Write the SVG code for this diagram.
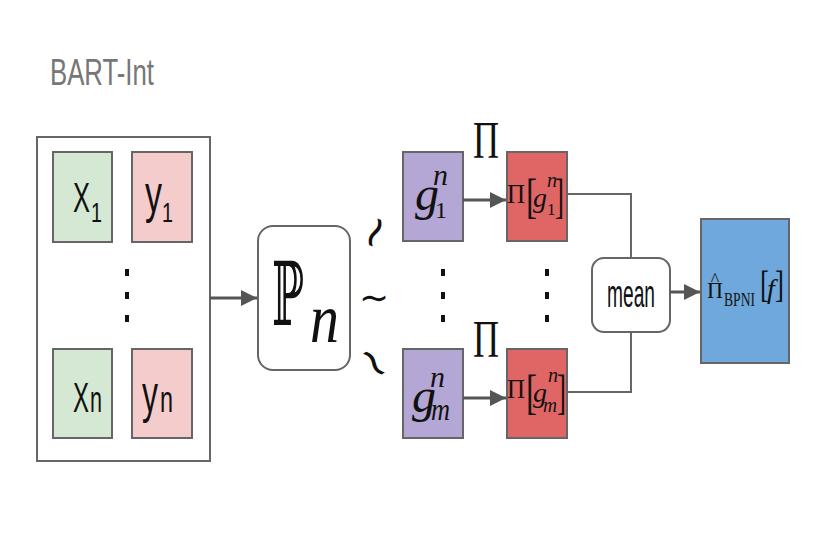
<svg xmlns="http://www.w3.org/2000/svg" width="837" height="558" viewBox="0 0 837 558">
<defs>
<marker id="ah" viewBox="0 0 10 10" refX="10" refY="5" markerWidth="5.5" markerHeight="5.5" orient="auto" markerUnits="strokeWidth"><path d="M0,0 L10,5 L0,10 z" fill="#555"/></marker>
<style>
.box{stroke:#666;stroke-width:2}
.sans{font-family:"Liberation Sans","DejaVu Sans",sans-serif;fill:#111}
.serif{font-family:"Liberation Serif","DejaVu Serif",serif;fill:#111}
.math{font-family:"Liberation Serif","DejaVu Serif",serif;font-style:italic;fill:#111}
.con{fill:none;stroke:#666;stroke-width:2}
.arr{fill:none;stroke:#555;stroke-width:3;marker-end:url(#ah)}
.dot{fill:#111}
</style>
</defs>
<rect width="837" height="558" fill="#fff"/>
<text x="50" y="85" font-family="Liberation Sans, sans-serif" font-size="37" fill="#777" textLength="104" lengthAdjust="spacingAndGlyphs">BART-Int</text>

<g id="data">
<rect x="37" y="137" width="173" height="324" fill="#fff" class="box"/>
<g id="x1"><rect x="53" y="152" width="59" height="90" fill="#d5e8d4" class="box"/><text x="73" y="212" class="sans" font-size="42" textLength="17" lengthAdjust="spacingAndGlyphs">X</text><text x="91" y="222" class="sans" font-size="28" textLength="11" lengthAdjust="spacingAndGlyphs">1</text></g>
<g id="y1"><rect x="132" y="152" width="60" height="90" fill="#f4cccc" class="box"/><text x="145" y="212" class="sans" font-size="54" textLength="17" lengthAdjust="spacingAndGlyphs">y</text><text x="162" y="222" class="sans" font-size="28" textLength="11" lengthAdjust="spacingAndGlyphs">1</text></g>
<g id="xn"><rect x="53" y="349" width="59" height="89" fill="#d5e8d4" class="box"/><text x="73" y="412" class="sans" font-size="42" textLength="16" lengthAdjust="spacingAndGlyphs">X</text><text x="90" y="412" class="sans" font-size="36" textLength="12" lengthAdjust="spacingAndGlyphs">n</text></g>
<g id="yn"><rect x="132" y="349" width="60" height="89" fill="#f4cccc" class="box"/><text x="142" y="412" class="sans" font-size="54" textLength="16" lengthAdjust="spacingAndGlyphs">y</text><text x="160" y="412" class="sans" font-size="36" textLength="13" lengthAdjust="spacingAndGlyphs">n</text></g>
<rect x="125" y="269" width="4" height="7" class="dot"/><rect x="125" y="292" width="4" height="7" class="dot"/><rect x="125" y="315" width="4" height="7" class="dot"/>
</g>

<g id="pn">
<rect x="258" y="226" width="92" height="144" rx="15" fill="#fff" class="box"/>
<text x="272" y="325" font-family="DejaVu Serif, DejaVu Sans, serif" font-size="88" fill="#111" textLength="32" lengthAdjust="spacingAndGlyphs">ℙ</text>
<text x="310" y="342" class="math" font-size="70" textLength="29" lengthAdjust="spacingAndGlyphs">n</text>
</g>

<g id="tildes" font-family="DejaVu Sans, sans-serif" fill="#111">
<text x="374" y="247" font-size="44" text-anchor="middle" transform="rotate(-65 374 232)">∼</text>
<text x="374" y="310" font-size="36" text-anchor="middle">∼</text>
<text x="374" y="377" font-size="44" text-anchor="middle" transform="rotate(55 374 363)">∼</text>
</g>

<g id="g1"><rect x="403" y="152" width="60" height="89" fill="#b4a7d6" class="box"/><text x="415" y="210" class="math" font-size="48">g</text><text x="433" y="185" class="math" font-size="30">n</text><text x="435" y="218" class="serif" font-size="24">1</text></g>
<g id="pig1"><rect x="507" y="152" width="60" height="89" fill="#e06666" class="box"/><text x="507" y="203" class="serif" font-size="27" textLength="18" lengthAdjust="spacingAndGlyphs">Π</text><text x="526" y="212" class="serif" font-size="48" textLength="11" lengthAdjust="spacingAndGlyphs">[</text><text x="533" y="207" class="math" font-size="28">g</text><text x="547" y="187" class="math" font-size="20">n</text><text x="547" y="215" class="serif" font-size="17">1</text><text x="555" y="212" class="serif" font-size="48" textLength="9" lengthAdjust="spacingAndGlyphs">]</text></g>
<g id="gm"><rect x="403" y="349" width="60" height="89" fill="#b4a7d6" class="box"/><text x="412" y="412" class="math" font-size="48">g</text><text x="430" y="387" class="math" font-size="30">n</text><text x="431" y="420" class="math" font-size="32" textLength="19" lengthAdjust="spacingAndGlyphs">m</text></g>
<g id="pigm"><rect x="507" y="349" width="60" height="89" fill="#e06666" class="box"/><text x="507" y="398" class="serif" font-size="27" textLength="18" lengthAdjust="spacingAndGlyphs">Π</text><text x="526" y="408" class="serif" font-size="48" textLength="11" lengthAdjust="spacingAndGlyphs">[</text><text x="533" y="402" class="math" font-size="28">g</text><text x="548" y="382" class="math" font-size="20">n</text><text x="543" y="412" class="math" font-size="20" textLength="14" lengthAdjust="spacingAndGlyphs">m</text><text x="557" y="408" class="serif" font-size="48" textLength="9" lengthAdjust="spacingAndGlyphs">]</text></g>
<g id="pilabels"><text x="473" y="158" class="serif" font-size="52" textLength="26" lengthAdjust="spacingAndGlyphs">Π</text><text x="473" y="357" class="serif" font-size="52" textLength="26" lengthAdjust="spacingAndGlyphs">Π</text></g>
<g id="dots2"><rect x="441" y="269" width="4" height="7" class="dot"/><rect x="441" y="292" width="4" height="7" class="dot"/><rect x="441" y="315" width="4" height="7" class="dot"/><rect x="545" y="269" width="4" height="7" class="dot"/><rect x="545" y="292" width="4" height="7" class="dot"/><rect x="545" y="315" width="4" height="7" class="dot"/></g>

<g id="mean"><rect x="592" y="258" width="78" height="74" rx="12" fill="#fff" class="box"/><text x="607" y="307" class="sans" font-size="38" textLength="48" lengthAdjust="spacingAndGlyphs">mean</text></g>
<g id="result"><rect x="701" y="219" width="88" height="144" fill="#6fa8dc" class="box"/><text x="707" y="298" class="serif" font-size="24" textLength="16" lengthAdjust="spacingAndGlyphs">Π</text><text x="715" y="286" text-anchor="middle" class="serif" font-size="18">^</text><text x="724" y="306" class="serif" font-size="18" textLength="31" lengthAdjust="spacingAndGlyphs">BPNI</text><text x="760" y="297" class="serif" font-size="38" textLength="9" lengthAdjust="spacingAndGlyphs">[</text><text x="767" y="298" class="math" font-size="28">f</text><text x="775" y="297" class="serif" font-size="38" textLength="9" lengthAdjust="spacingAndGlyphs">]</text></g>

<g id="connectors">
<path class="arr" d="M210,298 H257"/>
<path class="arr" d="M463,200 H506"/>
<path class="arr" d="M463,398 H506"/>
<path class="con" d="M567,194 H631 V258"/>
<path class="con" d="M631,332 V392 H567"/>
<path class="arr" d="M670,292 H700"/>
</g>
</svg>
